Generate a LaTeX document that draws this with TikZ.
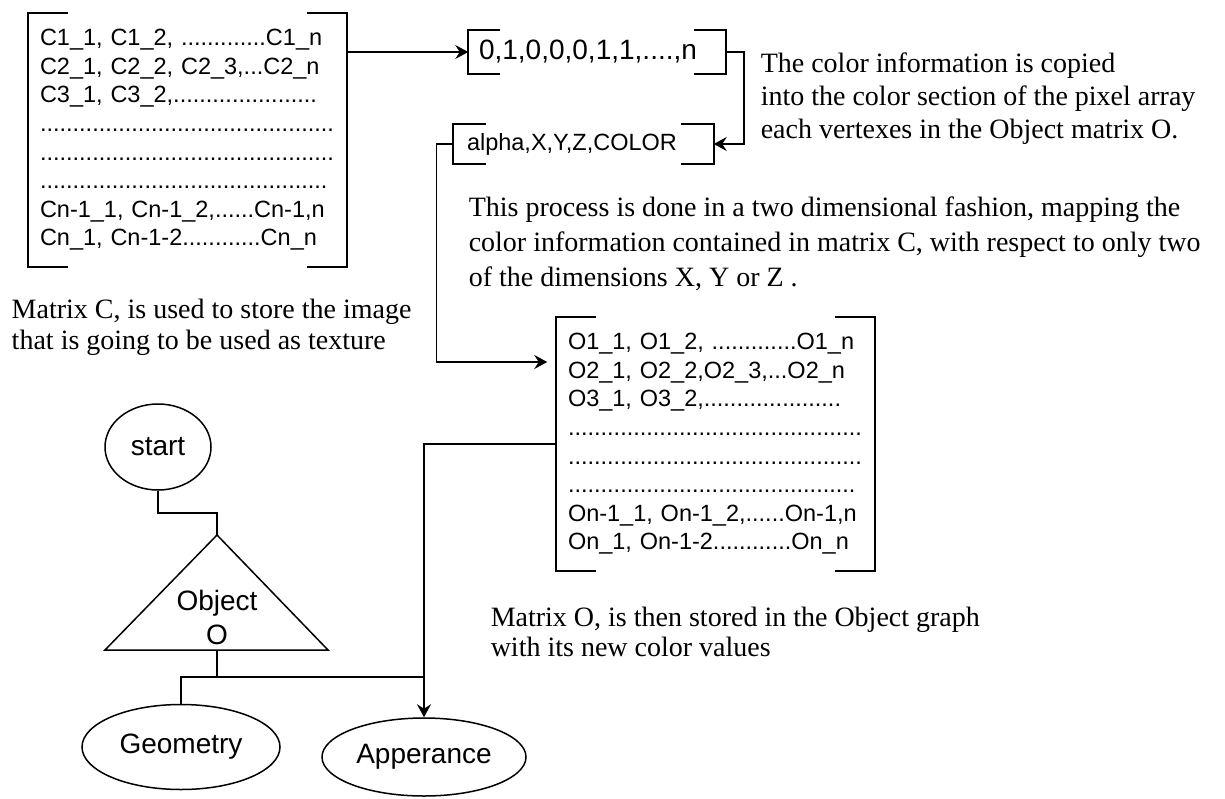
\documentclass[tikz,border=0pt]{standalone}
\usepackage{fontspec}
\setmainfont{Liberation Serif}
\setsansfont{Liberation Sans}
\usetikzlibrary{positioning,arrows.meta,shapes.geometric}

% square brackets round a matrix node: #1 node, #2 serif length
\newcommand{\mbrackets}[2]{%
  \draw[brk] ([xshift=#2]#1.north west) -- (#1.north west) -- (#1.south west) -- ([xshift=#2]#1.south west);
  \draw[brk] ([xshift=-#2]#1.north east) -- (#1.north east) -- (#1.south east) -- ([xshift=-#2]#1.south east);}

\begin{document}
\begin{tikzpicture}[
  x=1pt, y=-1pt,
  line width=1.5pt,
  mtx/.style={font=\sffamily\fontsize{23.5}{28.6}\selectfont, align=left, text width=295pt, inner xsep=11pt, inner ysep=0pt, minimum height=252pt},
  vec/.style={font=\sffamily\fontsize{23.5}{28}\selectfont, align=left, inner ysep=0pt},
  captxt/.style={font=\fontsize{28}{33}\selectfont, align=left, inner sep=0pt, anchor=base west},
  oval/.style={draw, ellipse, font=\sffamily\fontsize{28}{34}\selectfont, inner sep=0pt},
  brk/.style={line width=1.8pt},
  ln/.style={line width=1.5pt},
  arr/.style={ln, -{Stealth[length=13pt, width=14pt, inset=4.5pt]}}
]
\useasboundingbox (0,0) rectangle (1225,798);

% Matrix C
\node[mtx] (matC) at (187.5,140) {C1\_1, C1\_2, .............C1\_n\\
C2\_1, C2\_2, C2\_3,...C2\_n\\
C3\_1, C3\_2,......................\\
.............................................\\
.............................................\\
............................................\\
Cn-1\_1, Cn-1\_2,......Cn-1,n\\
Cn\_1, Cn-1-2............Cn\_n};
\mbrackets{matC}{40pt}

% vectors
\node[vec, font=\sffamily\fontsize{28}{30}\selectfont, text width=236pt, inner xsep=10pt, minimum height=42pt] (nums) at (597,52) {0,1,0,0,0,1,1,....,n};
\mbrackets{nums}{32pt}
\node[vec, text width=233pt, inner xsep=13pt, minimum height=38pt] (alpha) at (583.5,144) {alpha,X,Y,Z,COLOR};
\mbrackets{alpha}{33pt}

% Matrix O
\node[mtx] (matO) at (715.5,444) {O1\_1, O1\_2, .............O1\_n\\
O2\_1, O2\_2,O2\_3,...O2\_n\\
O3\_1, O3\_2,.....................\\
.............................................\\
.............................................\\
............................................\\
On-1\_1, On-1\_2,......On-1,n\\
On\_1, On-1-2............On\_n};
\mbrackets{matO}{40pt}

% Object graph
\node[oval, minimum width=106pt, minimum height=86pt] (start) at (158,447) {start};
\node[font=\sffamily\fontsize{28}{34}\selectfont, align=center, inner sep=0pt] (obj) at (217,617) {Object\\O};
\coordinate (objtop) at (217,535);
\coordinate (objbot) at (217,650);
\draw[ln] (objtop) -- (105,650) -- (328,650) -- cycle;
\node[oval, minimum width=198pt, minimum height=85pt] (geo) at (181,747) {Geometry};
\node[oval, minimum width=204pt, minimum height=78pt] (app) at (424,757) {Apperance};

% captions (anchored at the last baseline)
\node[captxt] (capcopy) at (760,138) {The color information is copied\\into the color section of the pixel array\\each vertexes in the Object matrix O.};
\node[captxt, font=\fontsize{28}{35}\selectfont] (capproc) at (468,286) {This process is done in a two dimensional fashion, mapping the\\color information contained in matrix C, with respect to only two\\of the dimensions X, Y or Z .};
\node[captxt, font=\fontsize{28}{31}\selectfont] (capC) at (11,349) {Matrix C, is used to store the image\\that is going to be used as texture};
\node[captxt, font=\fontsize{28}{30}\selectfont] (capO) at (490,656) {Matrix O, is then stored in the Object graph\\with its new color values};

% connectors
\draw[arr] (matC.east |- nums.west) -- (nums.west);
\draw[arr] (nums.east) -- ++(18,0) |- (alpha.east);
\draw[arr, shorten >=9pt] (alpha.west) -- ++(-17,0) |- ([yshift=82pt]matO.west);
\draw[arr] (matO.west) -| (app.north);
\draw[ln] (start.south) -- ++(0,22) -| (objtop);
\draw[ln] (objbot) -- ++(0,27) coordinate (split) -| (geo.north);
\draw[ln] (split) -- (split -| app.north);
\end{tikzpicture}
\end{document}
